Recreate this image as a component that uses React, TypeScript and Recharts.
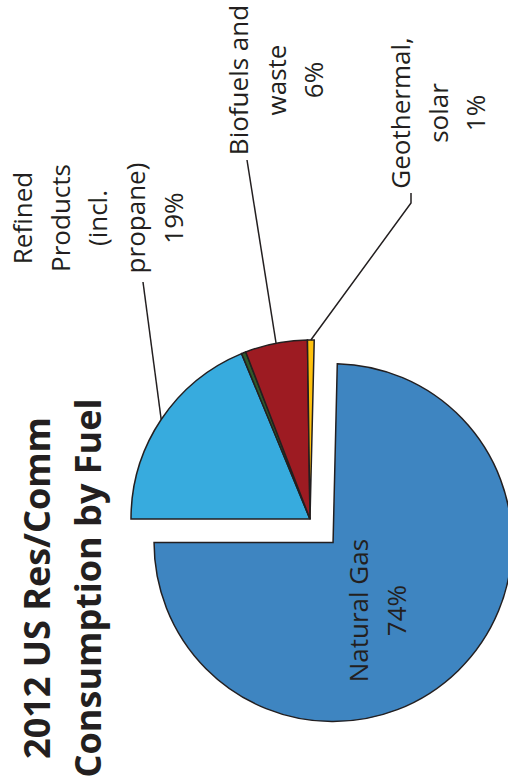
import React from 'react';
import { PieChart, Pie, Cell } from 'recharts';

// 2012 US residential / commercial consumption by fuel (share, %)
const fuels = ['Refined Products (incl. propane)', 'Coal', 'Biofuels and waste', 'Geothermal, solar', 'Natural Gas'];
const shares = [18.7, 0.4, 5.6, 0.6, 74.4];
const labelText = [['Refined', 'Products', '(incl.', 'propane)'], [], ['Biofuels and', 'waste'], ['Geothermal,', 'solar'], ['Natural Gas']];
const colors = ['#37ABDE', '#2F5A2B', '#9D1B22', '#FFC20E', '#3E85C1'];
const titleLines = ['2012 US Res/Comm', 'Consumption by Fuel'];

const data = fuels.map((name, i) => ({ name, value: shares[i] }));

// chart is laid out landscape and then turned a quarter turn
const W = 783;
const H = 508;
const CX = 264;
const CY = 310;
const R = 179;
const EXPLODE = 33;
const EXPLODED = 4;
const INK = '#231F20';
const FONT = '"Open Sans", sans-serif';

// label placement, relative to the slice's pie centre
const LABEL_POS: any[] = [
  { x: 301, y: -278, line: [[237, -167]] },
  null,
  { x: 439, y: -62, line: [[359, -63]] },
  { x: 406, y: 100, line: [[326, 101], [316, 101]] },
  { x: -68, y: 35, line: null },
];
const LINE_H = 37.7;

const total = shares.reduce((a, b) => a + b, 0);
const before = shares.slice(0, EXPLODED).reduce((a, b) => a + b, 0);
const ngStart = 90 - (before / total) * 360;
const ngMid = (ngStart + (90 - ((before + shares[EXPLODED]) / total) * 360)) / 2;
const exDx = EXPLODE * Math.cos((ngMid * Math.PI) / 180);
const exDy = -EXPLODE * Math.sin((ngMid * Math.PI) / 180);

const makeLabel = (exploded: boolean) => (props: any) => {
  const { cx, cy, midAngle, outerRadius, index, value } = props;
  if ((index === EXPLODED) !== exploded) return null;
  const pos = LABEL_POS[index];
  if (!pos) return null;
  const lines = [...labelText[index], `${Math.round(value)}%`];
  const rad = (-midAngle * Math.PI) / 180;
  const px = cx + outerRadius * Math.cos(rad);
  const py = cy + outerRadius * Math.sin(rad);
  return (
    <g key={`lbl-${index}`}>
      {pos.line && (
        <polyline
          points={[...pos.line.map((p: number[]) => `${cx + p[0]},${cy + p[1]}`), `${px},${py}`].join(' ')}
          fill="none"
          stroke={INK}
          strokeWidth={1.5}
        />
      )}
      {lines.map((t, i) => (
        <text
          key={i}
          x={cx + pos.x}
          y={cy + pos.y + i * LINE_H}
          textAnchor="middle"
          fontFamily={FONT}
          fontSize={26}
          fill={INK}
        >
          {t}
        </text>
      ))}
    </g>
  );
};

export default function App() {
  return (
    <div style={{ position: 'absolute', left: 0, top: 0, width: H, height: W, overflow: 'hidden', background: '#fff' }}>
      <div
        style={{
          position: 'absolute',
          left: 0,
          top: 0,
          width: W,
          height: H,
          transformOrigin: '0 0',
          transform: `translate(0px, ${W}px) rotate(-90deg)`,
        }}
      >
        <PieChart width={W} height={H} margin={{ top: 0, right: 0, bottom: 0, left: 0 }}>
          <Pie
            data={data}
            dataKey="value"
            nameKey="name"
            cx={CX}
            cy={CY}
            outerRadius={R}
            startAngle={90}
            endAngle={-270}
            stroke={INK}
            strokeWidth={1.5}
            label={makeLabel(false)}
            labelLine={false}
            isAnimationActive={false}
          >
            {data.map((d, i) => (
              <Cell key={d.name} fill={i === EXPLODED ? 'none' : colors[i]} stroke={i === EXPLODED ? 'none' : INK} />
            ))}
          </Pie>
          <Pie
            data={data}
            dataKey="value"
            nameKey="name"
            cx={CX + exDx}
            cy={CY + exDy}
            outerRadius={R}
            startAngle={90}
            endAngle={-270}
            stroke={INK}
            strokeWidth={1.5}
            label={makeLabel(true)}
            labelLine={false}
            isAnimationActive={false}
          >
            {data.map((d, i) => (
              <Cell key={d.name} fill={i === EXPLODED ? colors[i] : 'none'} stroke={i === EXPLODED ? INK : 'none'} />
            ))}
          </Pie>
        </PieChart>
        <svg width={W} height={H} style={{ position: 'absolute', left: 0, top: 0, pointerEvents: 'none' }}>
          {titleLines.map((t, i) => (
            <text
              key={t}
              x={195}
              y={50 + i * 51}
              textAnchor="middle"
              fontFamily={FONT}
              fontWeight={700}
              fontSize={36}
              fill={INK}
            >
              {t}
            </text>
          ))}
        </svg>
      </div>
    </div>
  );
}
